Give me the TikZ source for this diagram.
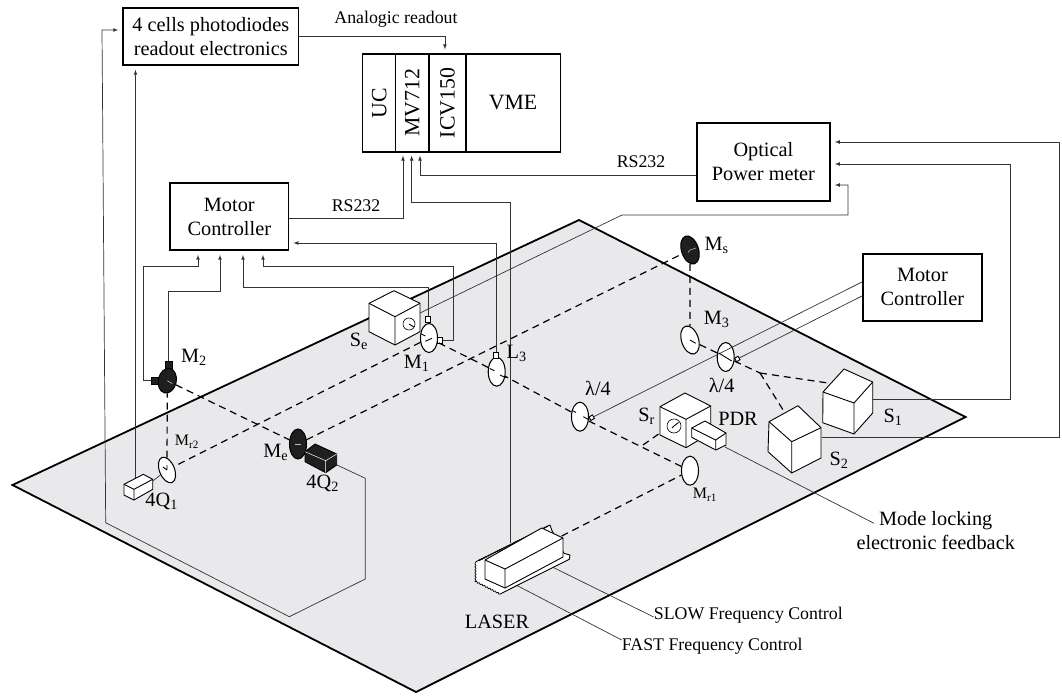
\documentclass[tikz,border=0pt]{standalone}
\usepackage{fontspec}
\setmainfont{Liberation Serif}
\usepackage{tikz}
\usetikzlibrary{shapes,arrows,positioning,decorations.pathmorphing}

\definecolor{tablegrey}{RGB}{233,233,236}

\newcommand{\isobox}[8][]{%
  \draw [solid box, #1] (#2) -- (#3) -- (#8) -- (#7) -- (#6) -- (#5) -- cycle;
  \draw [solid box, fill=none, #1] (#5) -- (#4) -- (#3) (#4) -- (#7);
}

\tikzset{
  big/.style={font=\fontsize{20.3}{24}\selectfont},
  mid/.style={font=\fontsize{17.8}{21}\selectfont},
  small/.style={font=\fontsize{16}{19}\selectfont},
  unit/.style={draw, rectangle, line width=1.6pt, inner sep=0pt, big, align=center},
  cell/.style={draw, rectangle, line width=1.3pt, inner sep=0pt, minimum height=98pt, font=\fontsize{21.8}{24}\selectfont},
  tag/.style={inner sep=0pt, big},
  wire/.style={line width=0.7pt, black!80},
  feed/.style={wire, -latex, shorten >=4pt},
  beam/.style={line width=1.2pt, dash pattern=on 7pt off 5pt},
  lens/.style={draw, ellipse, fill=white, line width=1.05pt, inner sep=0pt, minimum width=17pt, minimum height=29pt},
  darklens/.style={lens, fill=black!88},
  tick/.style={line width=0.9pt},
  darktick/.style={line width=0.6pt, white!75!black},
  motor/.style={draw, rectangle, fill=white, line width=0.9pt, inner sep=0pt, minimum width=5pt, minimum height=6pt},
  darkmotor/.style={motor, fill=black!88, minimum width=7pt, minimum height=7pt},
  solid box/.style={draw, fill=white, line width=0.9pt, line join=round},
}

\begin{document}
\begin{tikzpicture}[x=1pt, y=-1pt, node distance=20pt]
        \useasboundingbox (0,0) rectangle (1062,698);

        % Table
        \draw [fill=tablegrey, line width=1.8pt, line join=miter] (12.5,485) -- (579,220) -- (965.5,417) -- (416,692) -- cycle;

        % Electronics
        \node (readout) [unit, minimum width=175.5pt, minimum height=57pt] at (210.8,36.5) {4 cells photodiodes\\readout electronics};
        \node (uc) [cell, minimum width=33pt] at (379.2,103) {\rotatebox{90}{UC}};
        \node (mv) [cell, right of=uc, xshift=13.2pt, minimum width=33.4pt] {\rotatebox{90}{MV712}};
        \node (icv) [cell, right of=mv, xshift=15.1pt, minimum width=36.7pt] {\rotatebox{90}{ICV150}};
        \node (vme) [cell, right of=icv, xshift=45.5pt, minimum width=94.3pt] {VME};
        \node (motorl) [unit, minimum width=118.6pt, minimum height=67pt] at (229.3,216.5) {Motor\\Controller};
        \node (power) [unit, minimum width=133.3pt, minimum height=77.7pt] at (763.4,161.9) {Optical\\Power meter};
        \node (motorr) [unit, minimum width=119.3pt, minimum height=66.7pt] at (922.4,287.4) {Motor\\Controller};
        \node (mode) [tag, align=center] at (935.7,531) {Mode locking\\electronic feedback};
        \node (slow) [tag, mid, anchor=west] at (653.7,615) {SLOW Frequency Control};
        \node (fast) [tag, mid, anchor=west] at (621.7,646) {FAST Frequency Control};

        % Optics on the table
        \node (m2) [darklens, minimum width=18pt, minimum height=25pt, rotate=-12] at (167.3,380.7) {};
        \node (me) [darklens, minimum height=30pt] at (298,444) {};
        \node (mr2) [lens, minimum width=15pt, minimum height=27pt, rotate=22] at (167,470) {};
        \node (m1) [lens] at (429,338) {};
        \node (l3) [lens] at (496.7,371.7) {};
        \node (lam1) [lens] at (580,416.7) {};
        \node (mr1) [lens] at (690,470.7) {};
        \node (lam2) [lens] at (725.7,357) {};
        \node (m3) [lens, rotate=18] at (690,340) {};
        \node (ms) [darklens, rotate=18] at (690,250) {};

        \node (m2top) [darkmotor] at (168.7,365) {};
        \node (m2side) [darkmotor] at (154.7,380.7) {};
        \node (m1top) [motor] at (428.3,319.5) {};
        \node (m1side) [motor] at (440,340) {};
        \node (l3top) [motor] at (496,355) {};
        \node (lam1side) [motor, minimum width=4pt, minimum height=4pt, rotate=30] at (591.7,417.7) {};
        \node (lam2side) [motor, minimum width=4pt, minimum height=4pt, rotate=30] at (737.3,359) {};

        \coordinate (seport) at (420,313);
        \coordinate (srport) at (660,433);
        \coordinate (srbeam) at (643,445);
        \coordinate (split) at (760,373);
        \coordinate (s1beam) at (828,383);
        \coordinate (s2beam) at (785,413);
        \coordinate (s1port) at (873,399);
        \coordinate (s2port) at (822,437);
        \coordinate (pdrport) at (725,447);
        \coordinate (fourqa) at (135.5,479);
        \coordinate (fourqb) at (337,465);
        \coordinate (laserbeam) at (561.7,536);
        \coordinate (lasertop) at (510,543);
        \coordinate (laserslow) at (551.7,566.7);
        \coordinate (laserfast) at (516,585);

        % Beams
        \draw [beam] (laserbeam) -- (mr1);
        \draw [beam] (mr1) -- (lam1);
        \draw [beam] (lam1) -- (l3);
        \draw [beam] (l3) -- (m1);
        \draw [beam] (m1) -- (mr2);
        \draw [beam] (mr2) -- (m2);
        \draw [beam] (m2) -- (me);
        \draw [beam] (me) -- (ms);
        \draw [beam] (ms) -- (m3);
        \draw [beam] (m3) -- (lam2);
        \draw [beam] (lam2) -- (split);
        \draw [beam] (split) -- (s1beam);
        \draw [beam] (split) -- (s2beam);
        \draw [beam] (srbeam) -- (srport);

        % Cables
        \draw [feed] (readout.east |- 0,36) -| ([xshift=-2.6pt]icv.north);
        \draw [feed] (fourqb) -- (365.3,478.3) -- (365.3,579) -- (289.3,616.7) -- (105.7,522.7) -- (102,30) -- (readout.west |- 0,30);
        \draw [feed] (fourqa) -- ([xshift=-75.3pt]readout.south);
        \draw [feed, shorten >=3pt] (motorl.east |- 0,218) -| ([xshift=23.8pt]uc.south);
        \draw [feed, shorten >=3pt] (lasertop) -- (510,202) -| ([xshift=32.5pt]uc.south);
        \draw [feed, shorten >=3pt] (power.west |- 0,175.7) -| ([xshift=40.8pt]uc.south);
        \draw [feed] (m2side.west) -| (143,266.7) -| ([xshift=-31.3pt]motorl.south);
        \draw [feed] (m2top.north) |- (220,291) -- ([xshift=-9.3pt]motorl.south);
        \draw [feed] (m1top.north) |- (243,287) -- ([xshift=13.7pt]motorl.south);
        \draw [feed] (m1side.east) -| (453.6,266.7) -| ([xshift=33.7pt]motorl.south);
        \draw [feed] (l3top.north) |- (motorl.east |- 0,243);
        \draw [feed] (seport) -- (622,215) -| (848,185) -- (power.east |- 0,185);
        \draw [feed] (s1port) -- (1010,399) |- (power.east |- 0,164);
        \draw [feed] (s2port) -- (1059,437) |- (power.east |- 0,142);
        \draw [wire] (motorr.west |- 0,282) -- (lam1side);
        \draw [wire] (motorr.west |- 0,296) -- (lam2side);
        \draw [wire] (pdrport) -- ([xshift=17.7pt,yshift=7.7pt]mode.west);
        \draw [wire] (laserslow) -- ([yshift=-2pt]slow.west);
        \draw [wire] (laserfast) -- ([yshift=6pt]fast.west);

        % Ticks on the optics
        \draw [darktick] (m2.center) -- +(5,3);
        \draw [darktick] (me.center) -- +(-3,0) (me.center) -- +(3,0);
        \draw [darktick] (ms.center) -- +(-2,2.5) (ms.center) -- +(6,-2);
        \draw [tick] (mr2.center) -- +(0,-5) (mr2.center) -- +(-4,-3);
        \draw [tick] (m1.center) ++(-7.7,-4) -- +(4,2) (m1.center) ++(-3.7,3.3) -- +(6.7,-3);
        \draw [tick] (l3.center) ++(-7,-3.3) -- +(4.7,2.3) (l3.center) ++(3.3,3.3) -- +(5.7,2.7);
        \draw [tick] (lam1.center) ++(-8,-6.5) -- +(4,2.3) (lam1.center) ++(3.3,0) -- +(6,3.3);
        \draw [tick] (lam2.center) ++(-7,-4) -- +(13,8);
        \draw [tick] (m3.center) -- +(5.7,3.3);

        % Sources and detectors
        \isobox{394,290.7}{420,303.3}{395,316.7}{369,303.3}{369,331.7}{395,345}{420,331.7}
        \node (segauge) [draw, circle, line width=0.6pt, inner sep=0pt, minimum size=12pt] at (409,324) {};
        \draw [tick] (segauge.center) -- +(5,3);
        \isobox{685,393}{710.7,406}{686,419.3}{660,406.7}{660,435}{686,447.7}{710.7,433}
        \node (srgauge) [draw, circle, line width=0.6pt, inner sep=0pt, minimum size=14pt] at (674,426) {};
        \draw [tick] (srgauge.center) -- +(4.5,-3.5) (srgauge.center) -- +(-2,2);
        \isobox{705,421}{726,433}{715.7,440}{691.7,428}{691.7,437.3}{715.7,450}{726,445}
        \isobox{844,369}{872.7,382}{854,403}{823,392}{822.7,422.7}{854,434}{872.7,413}
        \isobox{798,405.7}{821,427.7}{791.7,441.7}{769,421.7}{768,451.7}{791.7,473}{821,458}
        \isobox{143.3,474.3}{152.7,479.3}{134,489.3}{124,484.3}{124,495}{134,500}{152.7,489.3}
        \draw [solid box, fill=black!88] (315,444) -- (336.7,454) -- (336.7,465) -- (325.7,472.7) -- (305,461.7) -- (305,451.7) -- cycle;
        \draw [line width=0.5pt, white] (305,451.7) -- (325.7,460.7) -- (336.7,454) (325.7,460.7) -- (325.7,472.7);
        \draw [wire] (mr2) -- (152.7,481);

        % Laser
        \draw [solid box] (476,561.7) -- (550,525) -- (551.7,530) -- (564,553.3) -- (570,555) -- (569.3,559.3) -- (500,594);
        \draw [solid box, line width=0.7pt, decorate, decoration={snake, amplitude=0.7pt, segment length=3pt}] (500,594) -- (476,581.7) -- (476,561.7);
        \draw [line width=1.5pt, densely dotted] (479,560.5) -- (548,526);
        \isobox{541.7,528}{563,538}{505,569}{485,560}{485,579}{505,588}{563,557}

        % Labels
        \node (analog) [tag, mid] at (396,19) {Analogic readout};
        \node (rsl) [tag, mid] at (356,206) {RS232};
        \node (rsr) [tag, mid] at (641,162) {RS232};
        \node (m2tag) [tag, right of=m2, xshift=6.7pt, yshift=23.7pt] {M\textsubscript{2}};
        \node (mr2tag) [tag, small, right of=mr2, yshift=28pt] {M\textsubscript{r2}};
        \node (metag) [tag, left of=me, xshift=-2.3pt, yshift=-8pt] {M\textsubscript{e}};
        \node (fourqbtag) [tag, below of=me, xshift=24.7pt, yshift=-19pt] {4Q\textsubscript{2}};
        \node (fourqatag) [tag] at (161.7,501.7) {4Q\textsubscript{1}};
        \node (setag) [tag, left of=m1, xshift=-50pt, yshift=-3.7pt] {S\textsubscript{e}};
        \node (m1tag) [tag, below of=m1, xshift=-12.3pt, yshift=-5pt] {M\textsubscript{1}};
        \node (l3tag) [tag, right of=l3, yshift=18.7pt] {L\textsubscript{3}};
        \node (mstag) [tag, right of=ms, xshift=6.7pt, yshift=5pt] {M\textsubscript{s}};
        \node (m3tag) [tag, right of=m3, xshift=6.7pt, yshift=21pt] {M\textsubscript{3}};
        \node (lam1tag) [tag, above of=lam1, xshift=18pt, yshift=8.7pt] {λ/4};
        \node (lam2tag) [tag, below of=lam2, xshift=-4pt, yshift=-8pt] {λ/4};
        \node (srtag) [tag] at (646.7,416.7) {S\textsubscript{r}};
        \node (pdrtag) [tag] at (738,419) {PDR};
        \node (s1tag) [tag] at (893,417) {S\textsubscript{1}};
        \node (s2tag) [tag] at (839,460) {S\textsubscript{2}};
        \node (mr1tag) [tag, small, below of=mr1, xshift=15pt, yshift=-4.3pt] {M\textsubscript{r1}};
        \node (lasertag) [tag] at (497,622) {LASER};
    \end{tikzpicture}
\end{document}
